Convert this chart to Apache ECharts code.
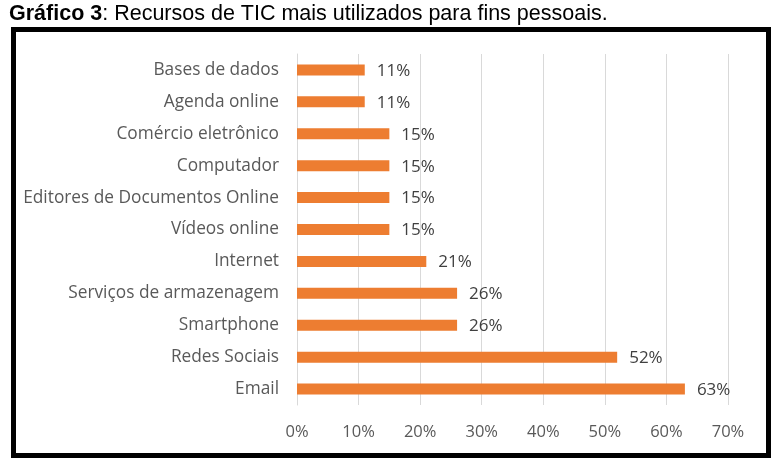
<!DOCTYPE html>
<html><head><meta charset="utf-8">
<script src="https://cdn.jsdelivr.net/npm/echarts@6/dist/echarts.min.js"></script>
<style>html,body{margin:0;padding:0;background:#fff}#c{width:777px;height:463px}</style>
</head><body><div id="c"></div>
<script>
const categories = ["Email","Redes Sociais","Smartphone","Serviços de armazenagem","Internet","Vídeos online","Editores de Documentos Online","Computador","Comércio eletrônico","Agenda online","Bases de dados"];
const values = [63,52,26,26,21,15,15,15,15,11,11];
const tickLabels = ["0%","10%","20%","30%","40%","50%","60%","70%"];

const F = 'Open Sans, Liberation Sans, Arial';
const chart = echarts.init(document.getElementById('c'), null, {renderer:'canvas'});
chart.setOption({
  animation:false,
  backgroundColor:'#fff',
  title:{
    left:9, top:3, padding:0,
    text:'{b|Gráfico 3}{n|: Recursos de TIC mais utilizados para fins pessoais.}',
    textStyle:{rich:{
      b:{fontFamily:'Liberation Sans, Arial', fontWeight:'bold', fontSize:21.5, color:'#000'},
      n:{fontFamily:'Liberation Sans, Arial', fontWeight:'normal', fontSize:21.5, color:'#000'}
    }}
  },
  graphic:[{type:'rect', shape:{x:13.5,y:29.5,width:755,height:426}, style:{fill:'none', stroke:'#000', lineWidth:5}, z:10}],
  grid:{left:297, right:49, top:54, height:351, containLabel:false},
  xAxis:{type:'value', min:0, max:70, interval:10,
    axisLine:{show:false}, axisTick:{show:false},
    splitLine:{lineStyle:{color:'#d9d9d9', width:1}},
    axisLabel:{formatter:v=>tickLabels[Math.round(v/10)], color:'#595959', fontSize:16.5, fontFamily:F, margin:19}
  },
  yAxis:{type:'category', data:categories,
    axisLine:{show:true, lineStyle:{color:'#d9d9d9'}}, axisTick:{show:false},
    axisLabel:{color:'#595959', fontSize:17.3, fontFamily:F, margin:18}
  },
  series:[{type:'bar', data:values, barWidth:11, itemStyle:{color:'#ED7D31'},
    label:{show:true, position:'right', distance:12, offset:[0,1], formatter:p=>p.value+'%', color:'#404040', fontSize:17, fontFamily:F}
  }]
});
</script></body></html>
